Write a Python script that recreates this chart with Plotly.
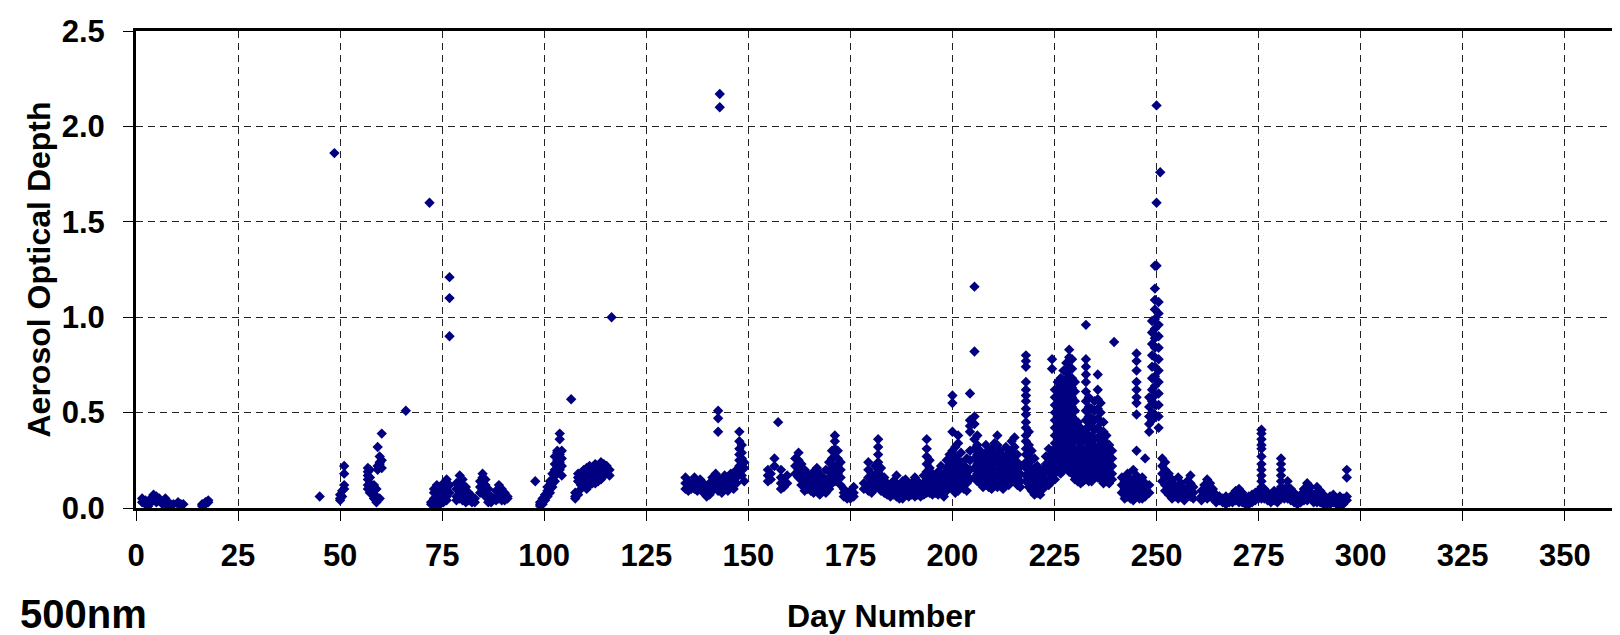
import plotly.graph_objects as go

# ---- data: columns of measurements (day number -> list of AOD values at 500nm) ----
winter_days = [1.5, 2.3, 3.0, 3.6, 4.3, 5.0, 5.7, 6.5, 7.2, 7.8, 8.5, 9.2, 10.3, 11.0, 11.6, 16.2, 17.0, 17.7]
winter_aod = [[0.05, 0.03], [0.04, 0.02], [0.03, 0.01], [0.05, 0.03], [0.07, 0.04], [0.06, 0.03],
              [0.05, 0.04], [0.03, 0.02], [0.05, 0.04], [0.03, 0.01], [0.02, 0.01], [0.02],
              [0.03, 0.02], [0.02, 0.01], [0.02], [0.02, 0.01], [0.03, 0.02], [0.04, 0.03]]

spring_days = [45.0, 48.6, 50.0, 50.5, 51.0, 56.8, 57.3, 58.3, 58.9, 59.2, 59.7, 60.2, 66.1, 71.9,
               72.3, 73.0, 73.7, 74.5, 75.3, 76.1, 76.8, 78.5, 79.3, 80.0, 80.8, 81.5, 82.3, 83.0,
               84.3, 84.9, 85.6, 86.3, 87.0, 88.2, 88.9, 89.6, 90.3, 91.0, 97.8, 99.0, 99.6, 100.2,
               100.8, 101.4, 102.0, 102.6, 103.2, 103.8, 104.3, 106.6, 107.6, 108.3, 109.0, 109.7,
               110.4, 111.1, 111.8, 112.5, 113.2, 113.9, 114.6, 115.3, 116.0, 116.5]
spring_aod = [[0.06], [1.86], [0.04, 0.05, 0.07], [0.09, 0.06], [0.12, 0.10, 0.18, 0.22],
              [0.21, 0.19, 0.17, 0.15, 0.12, 0.10], [0.20, 0.16, 0.13, 0.11, 0.08],
              [0.12, 0.09, 0.07, 0.05], [0.10, 0.06, 0.04, 0.03], [0.32, 0.20, 0.22],
              [0.24, 0.27, 0.23, 0.05], [0.39, 0.25, 0.21], [0.51], [1.60],
              [0.02, 0.03], [0.05, 0.08, 0.02, 0.10], [0.12, 0.09, 0.06, 0.03, 0.02],
              [0.07, 0.04, 0.11, 0.02], [0.13, 0.08, 0.05, 0.03], [0.15, 0.10, 0.06, 0.04],
              [1.21, 1.10, 0.90, 0.12, 0.08], [0.06, 0.10, 0.13, 0.04], [0.17, 0.14, 0.11, 0.08, 0.05],
              [0.15, 0.12, 0.09, 0.06, 0.04], [0.11, 0.08, 0.05, 0.03], [0.08, 0.06, 0.04],
              [0.06, 0.04, 0.03], [0.05, 0.03],
              [0.14, 0.11, 0.08], [0.18, 0.16, 0.13, 0.10], [0.15, 0.12, 0.09, 0.06],
              [0.10, 0.07, 0.05, 0.03], [0.06, 0.04, 0.03], [0.09, 0.06, 0.04], [0.12, 0.10, 0.07, 0.05],
              [0.10, 0.08, 0.06, 0.04], [0.08, 0.06, 0.04], [0.06, 0.05], [0.14],
              [0.01, 0.02, 0.03], [0.03, 0.05, 0.02], [0.05, 0.07, 0.04],
              [0.07, 0.09, 0.11, 0.06], [0.10, 0.12, 0.14, 0.08], [0.13, 0.15, 0.18, 0.11],
              [0.17, 0.20, 0.23, 0.27, 0.14], [0.22, 0.25, 0.29, 0.18, 0.30], [0.28, 0.24, 0.20, 0.36, 0.39],
              [0.30, 0.26, 0.22, 0.17], [0.57], [0.05, 0.06, 0.08], [0.07, 0.14, 0.16, 0.18],
              [0.10, 0.12, 0.15], [0.12, 0.15, 0.17, 0.20], [0.14, 0.17, 0.21, 0.10],
              [0.12, 0.16, 0.19, 0.22], [0.15, 0.18, 0.21, 0.13], [0.13, 0.17, 0.20, 0.23],
              [0.16, 0.19, 0.22, 0.14], [0.18, 0.21, 0.24, 0.15], [0.17, 0.20, 0.23],
              [0.19, 0.22, 0.18], [0.20, 0.17], [1.00]]

early_summer_days = [134.6, 135.3, 136.0, 136.8, 137.5, 138.2, 139.0, 139.8, 140.5, 141.2, 142.0,
                     142.6, 143.0, 143.5, 144.2, 145.0, 145.7, 146.4, 147.1, 147.8, 148.4, 149.0,
                     154.8, 155.5, 156.4, 157.3, 158.0, 158.7, 159.5, 161.5, 162.3, 163.0, 163.8,
                     164.5, 165.3, 166.0, 166.8, 167.5, 168.3, 169.0, 169.8, 170.5, 171.2, 171.9,
                     172.6, 173.4, 174.2, 175.0, 175.8, 178.3, 179.4, 180.2, 181.0, 181.8, 182.5,
                     183.3, 184.0, 184.8, 185.5, 186.3, 187.0, 187.8, 188.5, 189.3, 190.0, 190.8,
                     191.5, 192.2, 193.0, 193.7, 194.4, 195.1, 195.8, 196.5, 197.2, 197.9, 198.6, 199.3]
early_summer_aod = [[0.16, 0.13, 0.10], [0.14, 0.11, 0.09], [0.12, 0.10], [0.16, 0.13, 0.10],
                    [0.11, 0.09], [0.15, 0.12, 0.10], [0.13, 0.10, 0.08], [0.11, 0.08, 0.06],
                    [0.13, 0.10, 0.07], [0.16, 0.13, 0.09], [0.18, 0.14, 0.11],
                    [0.51, 0.47, 0.40, 0.16, 0.12, 0.09], [2.17, 2.10], [0.14, 0.11, 0.08],
                    [0.17, 0.13, 0.10], [0.16, 0.12, 0.09], [0.18, 0.14, 0.11], [0.15, 0.12, 0.10],
                    [0.20, 0.16, 0.13], [0.40, 0.35, 0.31, 0.28, 0.25, 0.22, 0.19],
                    [0.33, 0.29, 0.26, 0.23, 0.20, 0.17], [0.24, 0.21, 0.14],
                    [0.20, 0.17, 0.14], [0.18, 0.15], [0.26, 0.22], [0.45], [0.20, 0.16, 0.13, 0.10],
                    [0.14, 0.11], [0.17, 0.13], [0.26, 0.22, 0.18], [0.29, 0.25, 0.20, 0.16],
                    [0.23, 0.19, 0.15, 0.12], [0.20, 0.16, 0.12, 0.09], [0.18, 0.14, 0.10],
                    [0.16, 0.13, 0.09], [0.19, 0.15, 0.12, 0.08], [0.21, 0.17, 0.13, 0.10],
                    [0.18, 0.14, 0.11, 0.07], [0.16, 0.12, 0.09], [0.20, 0.15, 0.11, 0.08],
                    [0.24, 0.19, 0.14, 0.10], [0.30, 0.26, 0.21, 0.17, 0.13],
                    [0.38, 0.35, 0.31, 0.27, 0.22, 0.18, 0.14], [0.30, 0.26, 0.22, 0.18, 0.15],
                    [0.24, 0.20, 0.16, 0.12], [0.10, 0.08, 0.06], [0.07, 0.05], [0.09, 0.07, 0.05],
                    [0.11, 0.08, 0.06], [0.13, 0.10], [0.24, 0.20, 0.16, 0.12, 0.09],
                    [0.18, 0.14, 0.11, 0.08], [0.22, 0.17, 0.13, 0.10],
                    [0.36, 0.32, 0.28, 0.24, 0.19, 0.15, 0.11], [0.21, 0.17, 0.13, 0.09],
                    [0.16, 0.12, 0.08], [0.13, 0.10, 0.07], [0.11, 0.08, 0.06], [0.14, 0.10, 0.07],
                    [0.17, 0.13, 0.09, 0.06], [0.12, 0.09, 0.05], [0.14, 0.11, 0.08, 0.05],
                    [0.15, 0.11, 0.08], [0.12, 0.09, 0.06], [0.13, 0.10, 0.07], [0.16, 0.12, 0.09, 0.06],
                    [0.14, 0.10, 0.07], [0.12, 0.09, 0.06], [0.17, 0.13, 0.10, 0.07],
                    [0.36, 0.31, 0.27, 0.23, 0.19, 0.15, 0.11, 0.08], [0.25, 0.21, 0.16, 0.12, 0.08],
                    [0.18, 0.14, 0.10, 0.07], [0.15, 0.11, 0.08], [0.19, 0.15, 0.11, 0.07],
                    [0.22, 0.17, 0.13, 0.09], [0.18, 0.14, 0.10, 0.06], [0.25, 0.21, 0.17, 0.13, 0.09],
                    [0.28, 0.23, 0.19, 0.15, 0.11]]

late_summer_days = [200.0, 200.7, 201.4, 202.1, 202.8, 203.5, 204.3, 205.4, 206.1, 206.8, 207.5,
                    208.2, 208.9, 209.6, 210.3, 211.0, 211.7, 212.4, 213.1, 213.8, 214.5, 215.2,
                    215.9, 216.6, 218.0, 218.7, 219.4, 220.1, 220.8, 221.5, 222.2, 222.9, 223.6,
                    224.4, 225.1, 225.8, 226.5, 227.2, 227.9, 228.6, 229.3, 230.0, 230.7, 231.4,
                    232.0, 232.7, 233.4, 234.1, 234.8, 235.6, 236.3, 237.0, 237.7, 238.4, 239.1,
                    239.6, 241.5, 242.2, 242.9, 243.6, 244.3, 245.1, 245.8, 246.5, 247.2, 248.2,
                    248.9, 249.6, 250.0, 250.5, 250.9, 251.4, 252.1]
late_summer_aod = [[0.59, 0.55, 0.40, 0.30, 0.26, 0.22, 0.18, 0.14, 0.10],
                   [0.32, 0.27, 0.23, 0.19, 0.15, 0.11, 0.08],
                   [0.38, 0.34, 0.25, 0.21, 0.17, 0.13, 0.09],
                   [0.29, 0.24, 0.20, 0.16, 0.12], [0.22, 0.18, 0.14, 0.10],
                   [0.26, 0.21, 0.17, 0.13, 0.09],
                   [0.60, 0.46, 0.43, 0.40, 0.30, 0.25, 0.20, 0.15],
                   [1.16, 0.82, 0.48, 0.44, 0.36, 0.31, 0.26, 0.21, 0.16],
                   [0.38, 0.33, 0.28, 0.23, 0.18, 0.14], [0.30, 0.25, 0.21, 0.17, 0.13],
                   [0.27, 0.22, 0.18, 0.14, 0.11], [0.33, 0.29, 0.24, 0.20, 0.16, 0.12],
                   [0.28, 0.23, 0.19, 0.15, 0.11], [0.31, 0.26, 0.22, 0.18, 0.14, 0.10],
                   [0.34, 0.29, 0.25, 0.20, 0.16, 0.12], [0.38, 0.33, 0.28, 0.24, 0.19, 0.15, 0.11],
                   [0.30, 0.25, 0.21, 0.17, 0.13], [0.27, 0.23, 0.18, 0.14, 0.10],
                   [0.32, 0.27, 0.22, 0.18, 0.14], [0.29, 0.24, 0.20, 0.16, 0.12],
                   [0.35, 0.30, 0.25, 0.21, 0.17], [0.37, 0.32, 0.27, 0.22, 0.18, 0.14],
                   [0.28, 0.24, 0.20, 0.16, 0.12], [0.22, 0.18, 0.14, 0.11],
                   [0.80, 0.77, 0.74, 0.66, 0.62, 0.59, 0.56, 0.52, 0.49, 0.45, 0.42, 0.38, 0.35,
                    0.31, 0.28, 0.24, 0.21, 0.17, 0.14],
                   [0.40, 0.33, 0.27, 0.22, 0.18, 0.14, 0.11], [0.30, 0.25, 0.20, 0.16, 0.12, 0.09],
                   [0.26, 0.21, 0.17, 0.13, 0.10, 0.07], [0.22, 0.18, 0.14, 0.11, 0.08],
                   [0.19, 0.15, 0.12, 0.09, 0.07], [0.20, 0.16, 0.13, 0.10],
                   [0.27, 0.23, 0.19, 0.15, 0.12], [0.31, 0.27, 0.23, 0.19, 0.15, 0.12],
                   [0.78, 0.73, 0.30, 0.26, 0.22, 0.18, 0.14],
                   [0.62, 0.58, 0.54, 0.50, 0.46, 0.42, 0.38, 0.34, 0.30, 0.26, 0.22, 0.18, 0.15],
                   [0.66, 0.61, 0.57, 0.52, 0.48, 0.44, 0.40, 0.36, 0.32, 0.28, 0.24, 0.20],
                   [0.68, 0.64, 0.59, 0.55, 0.51, 0.46, 0.42, 0.38, 0.34, 0.30, 0.26, 0.22, 0.18],
                   [0.72, 0.67, 0.63, 0.58, 0.54, 0.49, 0.45, 0.40, 0.36, 0.32, 0.28, 0.24, 0.20],
                   [0.76, 0.71, 0.66, 0.61, 0.56, 0.51, 0.47, 0.42, 0.38, 0.33, 0.29, 0.25, 0.21],
                   [0.83, 0.79, 0.74, 0.69, 0.64, 0.59, 0.54, 0.49, 0.44, 0.40, 0.35, 0.31, 0.27, 0.23, 0.19],
                   [0.78, 0.73, 0.68, 0.63, 0.58, 0.53, 0.48, 0.43, 0.38, 0.34, 0.30, 0.26, 0.22, 0.18],
                   [0.66, 0.61, 0.56, 0.51, 0.46, 0.41, 0.36, 0.31, 0.27, 0.23, 0.19, 0.15],
                   [0.45, 0.40, 0.35, 0.30, 0.26, 0.22, 0.18, 0.14],
                   [0.42, 0.37, 0.32, 0.28, 0.24, 0.20, 0.16, 0.13],
                   [0.40, 0.35, 0.30, 0.26, 0.22, 0.18, 0.14],
                   [0.96, 0.78, 0.74, 0.70, 0.66, 0.61, 0.56, 0.51, 0.46, 0.41, 0.36, 0.31, 0.27, 0.23, 0.19, 0.15],
                   [0.58, 0.53, 0.48, 0.43, 0.38, 0.34, 0.30, 0.26, 0.22, 0.18, 0.14],
                   [0.52, 0.47, 0.43, 0.38, 0.34, 0.30, 0.26, 0.22, 0.18, 0.14],
                   [0.56, 0.51, 0.46, 0.41, 0.36, 0.32, 0.28, 0.24, 0.20, 0.16],
                   [0.70, 0.62, 0.57, 0.52, 0.47, 0.42, 0.37, 0.32, 0.28, 0.24, 0.20, 0.16],
                   [0.55, 0.50, 0.45, 0.40, 0.35, 0.31, 0.27, 0.23, 0.19, 0.15],
                   [0.45, 0.40, 0.36, 0.32, 0.28, 0.24, 0.20, 0.16, 0.13],
                   [0.38, 0.34, 0.30, 0.26, 0.22, 0.18, 0.14], [0.33, 0.29, 0.25, 0.21, 0.17, 0.13],
                   [0.30, 0.26, 0.22, 0.18, 0.15], [0.87],
                   [0.16, 0.12, 0.08], [0.14, 0.10, 0.07, 0.05], [0.18, 0.13, 0.09, 0.06],
                   [0.15, 0.11, 0.08, 0.05], [0.20, 0.15, 0.11, 0.07, 0.04],
                   [0.81, 0.77, 0.72, 0.66, 0.62, 0.58, 0.55, 0.49, 0.30, 0.17, 0.13, 0.09, 0.06],
                   [0.14, 0.10, 0.07, 0.05], [0.16, 0.12, 0.08, 0.05], [0.26, 0.13, 0.09, 0.06],
                   [0.58, 0.53, 0.48, 0.44, 0.40, 0.12, 0.08],
                   [0.98, 0.92, 0.86, 0.80, 0.74, 0.68, 0.62, 0.56, 0.50, 0.46],
                   [1.27, 1.15, 1.09, 1.04, 0.99, 0.94, 0.89, 0.84, 0.79, 0.74, 0.69, 0.64, 0.59, 0.54, 0.49],
                   [2.11, 1.60, 1.27],
                   [1.08, 1.02, 0.96, 0.90, 0.84, 0.78, 0.72, 0.66, 0.60, 0.54, 0.48, 0.42],
                   [1.76], [0.26, 0.22, 0.18, 0.14], [0.24, 0.20, 0.16, 0.12, 0.09]]

autumn_days = [253.0, 253.8, 254.5, 255.3, 256.0, 256.8, 257.5, 258.3, 259.0, 261.0, 261.7, 262.4,
               263.1, 263.8, 264.6, 265.4, 266.2, 267.0, 267.8, 268.6, 269.4, 270.2, 271.0, 271.8,
               272.6, 273.4, 274.2, 275.0, 275.7, 276.4, 277.2, 278.0, 278.8, 279.6, 280.5, 281.3,
               282.1, 282.9, 283.7, 284.5, 285.3, 286.1, 286.9, 287.7, 288.5, 289.3, 290.1, 290.9,
               291.7, 292.5, 293.3, 294.1, 294.9, 295.7, 296.6]
autumn_aod = [[0.18, 0.14, 0.10, 0.07], [0.15, 0.11, 0.08, 0.05], [0.12, 0.09, 0.06],
              [0.16, 0.12, 0.08, 0.05], [0.13, 0.09, 0.06], [0.10, 0.07, 0.04], [0.14, 0.10, 0.07],
              [0.17, 0.13, 0.09, 0.06], [0.11, 0.08, 0.05], [0.09, 0.06, 0.04], [0.12, 0.09, 0.06],
              [0.15, 0.11, 0.08, 0.05], [0.13, 0.09, 0.06], [0.10, 0.07, 0.05], [0.07, 0.05, 0.03],
              [0.06, 0.04], [0.05, 0.03], [0.06, 0.04, 0.02], [0.05, 0.03], [0.07, 0.05, 0.03],
              [0.09, 0.06, 0.04], [0.10, 0.07, 0.05, 0.03], [0.08, 0.05, 0.03], [0.05, 0.03, 0.02],
              [0.06, 0.04, 0.02], [0.07, 0.05, 0.03], [0.08, 0.06, 0.04], [0.09, 0.07, 0.05],
              [0.41, 0.39, 0.36, 0.33, 0.31, 0.27, 0.23, 0.20, 0.17, 0.14, 0.11, 0.08, 0.05],
              [0.10, 0.07, 0.05], [0.08, 0.06, 0.04], [0.07, 0.05, 0.03], [0.09, 0.06, 0.04],
              [0.08, 0.05, 0.03], [0.26, 0.23, 0.20, 0.17, 0.14, 0.11, 0.08, 0.05],
              [0.10, 0.07, 0.05], [0.14, 0.11, 0.08, 0.05], [0.10, 0.07, 0.04], [0.08, 0.05, 0.03],
              [0.06, 0.04, 0.02], [0.07, 0.05, 0.03], [0.10, 0.07, 0.04], [0.13, 0.10, 0.07, 0.04],
              [0.11, 0.08, 0.05], [0.07, 0.05, 0.03], [0.11, 0.08, 0.05, 0.03], [0.09, 0.06, 0.03],
              [0.07, 0.04, 0.02], [0.05, 0.03, 0.02], [0.06, 0.04, 0.02], [0.07, 0.05, 0.03],
              [0.05, 0.03, 0.02], [0.06, 0.04, 0.01], [0.05, 0.03, 0.02], [0.20, 0.16, 0.06, 0.04]]

x_ticks = [0, 25, 50, 75, 100, 125, 150, 175, 200, 225, 250, 275, 300, 325, 350]
y_ticks = [0.0, 0.5, 1.0, 1.5, 2.0, 2.5]

# ---- flatten columns into points ----
day_pts, aod_pts = [], []
for days, vals in [(winter_days, winter_aod), (spring_days, spring_aod),
                   (early_summer_days, early_summer_aod), (late_summer_days, late_summer_aod),
                   (autumn_days, autumn_aod)]:
    for d, vs in zip(days, vals):
        for v in vs:
            day_pts.append(d)
            aod_pts.append(v)

FONT = "Liberation Sans, Arial, sans-serif"

fig = go.Figure()
fig.add_trace(go.Scatter(
    x=day_pts, y=aod_pts, mode="markers",
    marker=dict(symbol="diamond", size=8, color="#000080", line=dict(width=0)),
    showlegend=False, hoverinfo="x+y",
))

axis_common = dict(
    showline=True, mirror=True, linecolor="black", linewidth=3,
    showgrid=True, gridcolor="#222222", gridwidth=1, griddash="7px,5px",
    zeroline=False, ticks="outside", ticklen=10, tickwidth=1, tickcolor="black",
    automargin=False,
    tickfont=dict(family=FONT, size=31, color="black", weight="bold"),
)

fig.update_xaxes(range=[0, 365], tickvals=x_ticks, ticklabelstandoff=8, **axis_common)
fig.update_yaxes(range=[0, 2.5], tickvals=y_ticks, tickformat=".1f", ticklabelstandoff=12, **axis_common)

fig.update_layout(
    width=1620, height=635,
    margin=dict(l=128, r=2, t=23, b=135),
    plot_bgcolor="white", paper_bgcolor="white",
    font=dict(family=FONT, color="black"),
    annotations=[
        dict(text="<b>Day Number</b>", xref="paper", yref="paper", x=0.5, y=(500 - 608) / 477,
             xanchor="center", yanchor="middle", showarrow=False, font=dict(size=32, family=FONT)),
        dict(text="<b>Aerosol Optical Depth</b>", xref="paper", yref="paper", x=(30 - 128) / 1490, y=0.5,
             xanchor="center", yanchor="middle", textangle=-90, showarrow=False,
             font=dict(size=32, family=FONT)),
        dict(text="<b>500nm</b>", xref="paper", yref="paper", x=(10 - 128) / 1490, y=(500 - 630) / 477,
             xanchor="left", yanchor="bottom", showarrow=False, font=dict(size=40, family=FONT)),
    ],
)

fig.write_html("out.html")
